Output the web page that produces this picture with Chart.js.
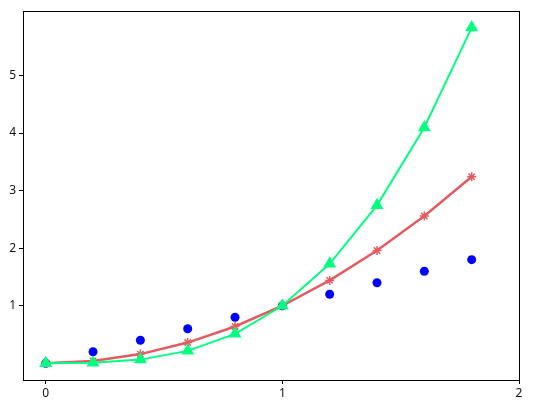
<!DOCTYPE html>
<html>
<head>
<meta charset="utf-8">
<script src="https://cdn.jsdelivr.net/npm/chart.js@4/dist/chart.umd.min.js"></script>
<style>
  html, body { margin: 0; padding: 0; background: #fff; }
  #wrap { width: 537px; height: 417px; }
</style>
</head>
<body>
<div id="wrap"><canvas id="chart"></canvas></div>
<script>
// values
const xValues = [0, 0.2, 0.4, 0.6, 0.8, 1.0, 1.2, 1.4, 1.6, 1.8];
const dotValues = [0, 0.2, 0.4, 0.6, 0.8, 1.0, 1.2, 1.4, 1.6, 1.8];
const starValues = [0, 0.04, 0.16, 0.36, 0.64, 1.0, 1.44, 1.96, 2.56, 3.24];
const triangleValues = [0, 0.008, 0.064, 0.216, 0.512, 1.0, 1.728, 2.744, 4.096, 5.832];
const xTicks = [0, 1, 2];
const yTicks = [1, 2, 3, 4, 5];

function points(ys) {
    return xValues.map((x, i) => ({ x: x, y: ys[i] }));
}

// black frame round the plot area
const frame = {
    id: 'frame',
    afterDatasetsDraw(chart) {
        const a = chart.chartArea;
        const ctx = chart.ctx;
        ctx.save();
        ctx.strokeStyle = '#000';
        ctx.lineWidth = 1;
        ctx.strokeRect(Math.round(a.left) + 0.5, Math.round(a.top) + 0.5,
            Math.round(a.right - a.left), Math.round(a.bottom - a.top));
        ctx.restore();
    }
};

const tickFont = { family: 'Noto Sans', size: 12 };

new Chart(document.getElementById('chart'), {
    type: 'line',
    data: {
        datasets: [
            {
                data: points(dotValues),
                showLine: false,
                pointStyle: 'circle',
                pointRadius: 4.5,
                pointBackgroundColor: '#0000ff',
                pointBorderColor: '#0000ff',
                pointBorderWidth: 0,
                order: 2
            },
            {
                data: points(starValues),
                borderColor: '#e35b60',
                borderWidth: 2.5,
                tension: 0,
                pointStyle: 'star',
                pointRadius: 4.5,
                pointBorderColor: '#e35b60',
                pointBackgroundColor: '#e35b60',
                pointBorderWidth: 1.5,
                order: 1
            },
            {
                data: points(triangleValues),
                borderColor: '#00ff7f',
                borderWidth: 2,
                tension: 0,
                pointStyle: 'triangle',
                pointRadius: 7.5,
                pointBorderColor: '#00ff7f',
                pointBackgroundColor: '#00ff7f',
                pointBorderWidth: 0,
                order: 0
            }
        ]
    },
    options: {
        responsive: true,
        maintainAspectRatio: false,
        animation: false,
        layout: { padding: { left: 0, right: 18, top: 11, bottom: 0 } },
        plugins: { legend: { display: false }, tooltip: { enabled: false } },
        scales: {
            x: {
                type: 'linear',
                min: -0.096,
                max: 2,
                afterBuildTicks(axis) { axis.ticks = xTicks.map(v => ({ value: v })); },
                afterFit(axis) { axis.height = 37; },
                border: { display: false },
                grid: { drawOnChartArea: false, tickLength: 4, color: '#000' },
                ticks: { color: '#111', font: tickFont, padding: 2, maxRotation: 0 }
            },
            y: {
                min: -0.29,
                max: 6.12,
                afterBuildTicks(axis) { axis.ticks = yTicks.map(v => ({ value: v })); },
                afterFit(axis) { axis.width = 23; },
                border: { display: false },
                grid: { drawOnChartArea: false, tickLength: 4, color: '#000' },
                ticks: { color: '#111', font: tickFont, padding: 3 }
            }
        }
    },
    plugins: [frame]
});
</script>
</body>
</html>
